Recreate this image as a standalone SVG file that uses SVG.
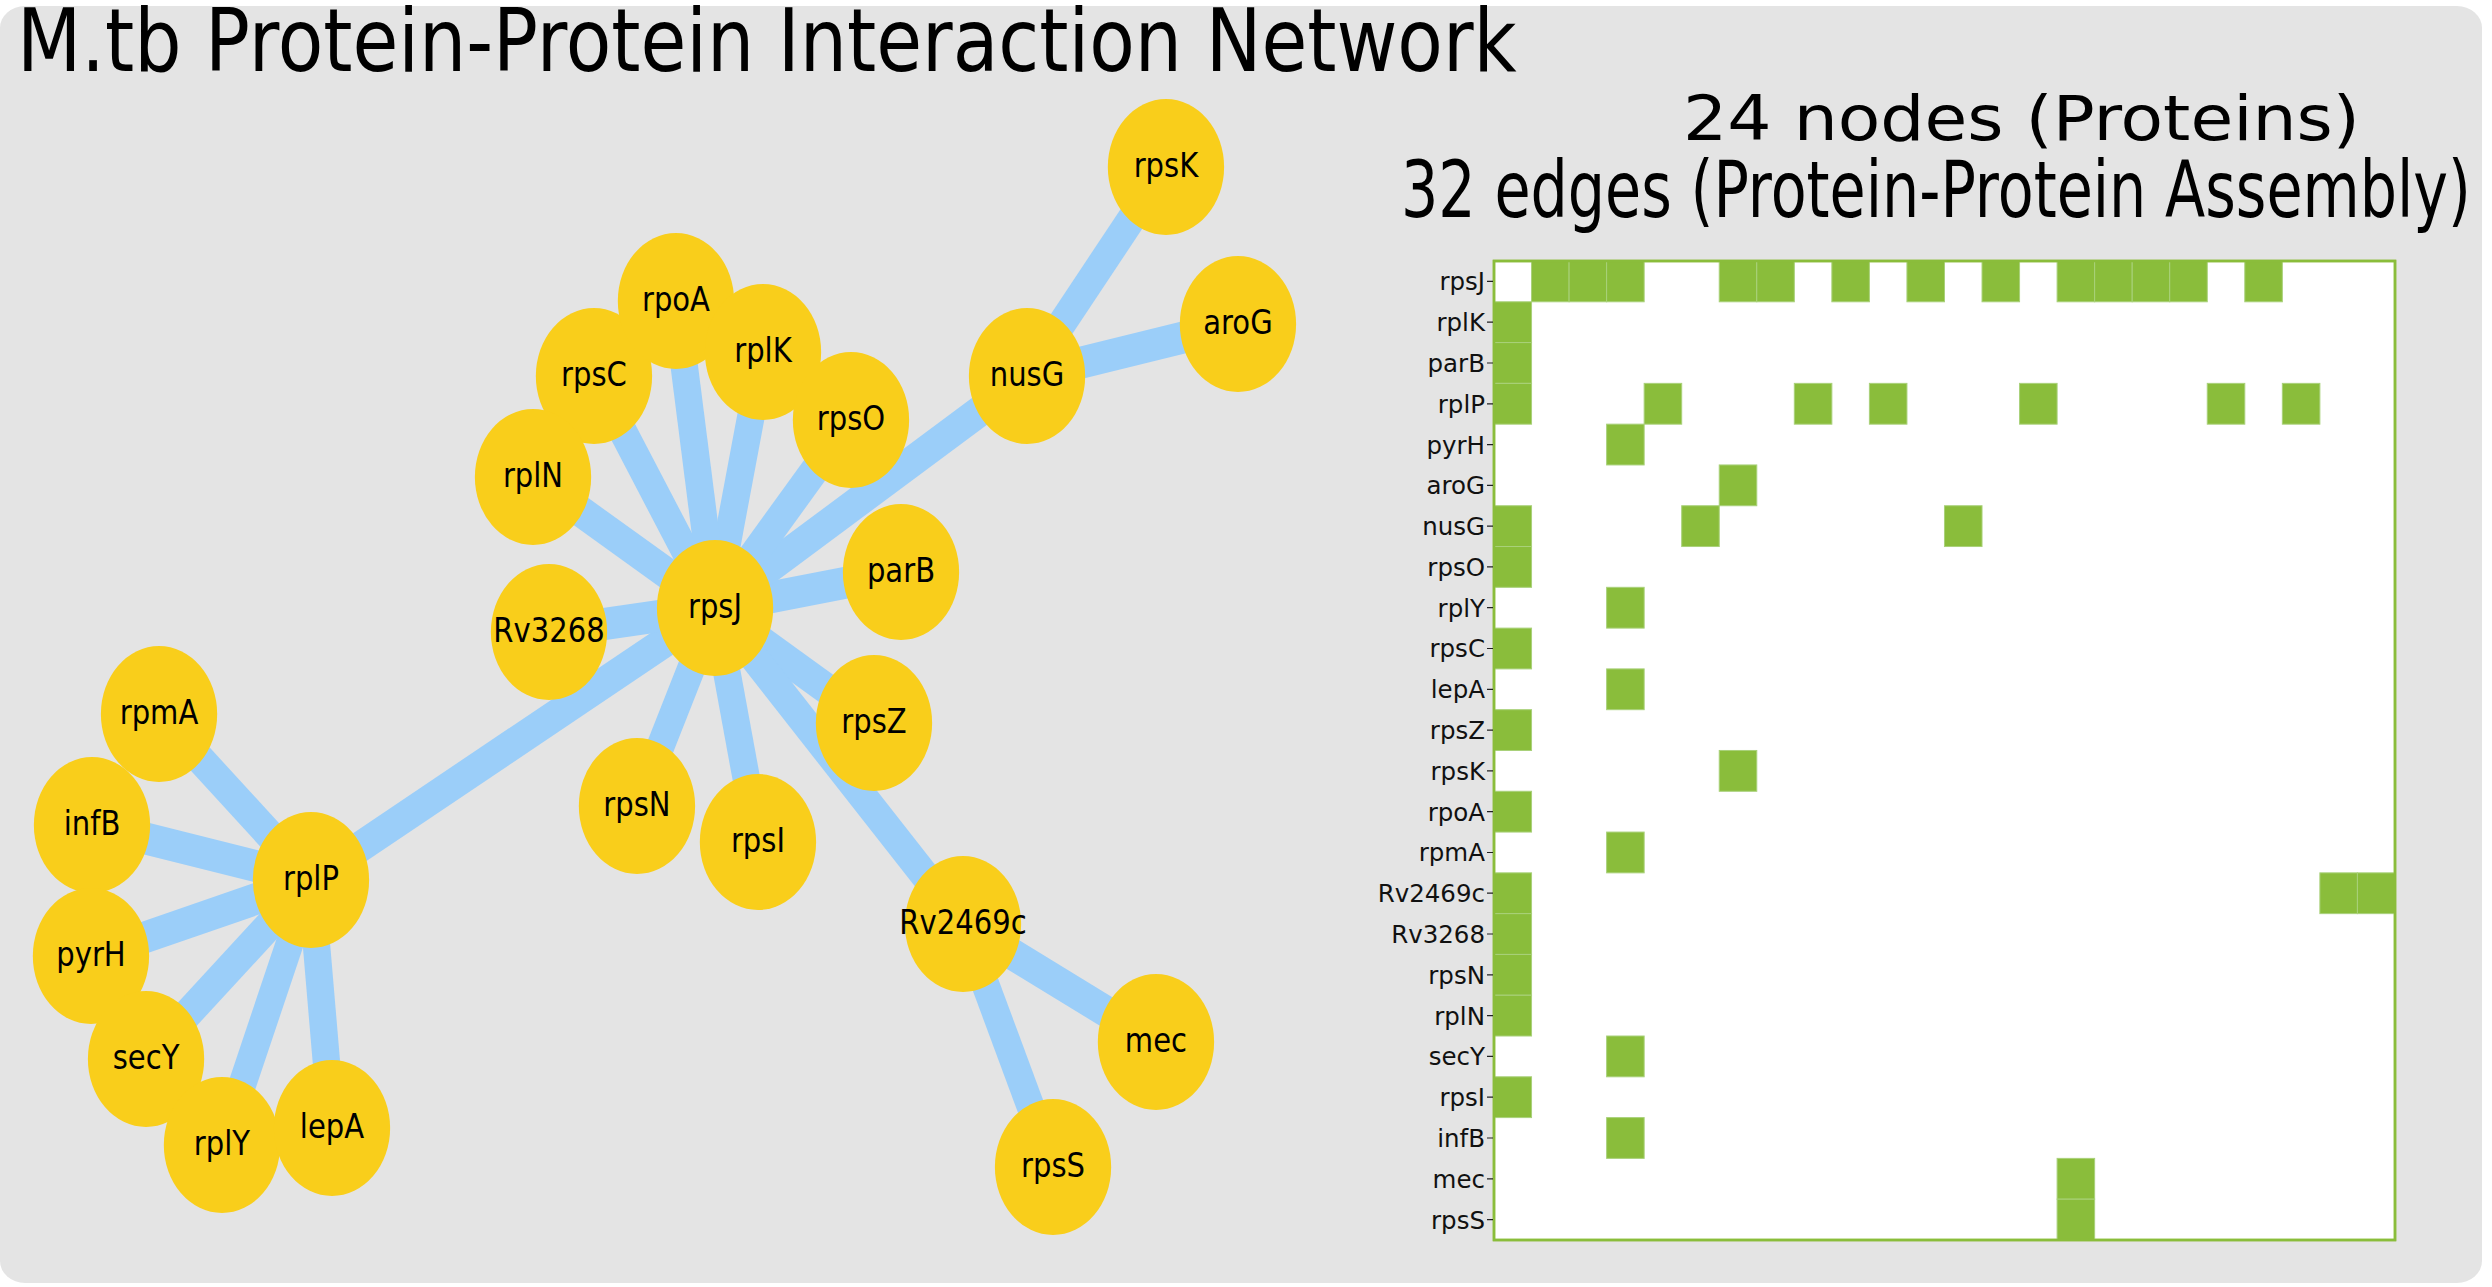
<svg xmlns="http://www.w3.org/2000/svg" width="2492" height="1287" viewBox="0 0 2492 1287">
<style>
.bg{fill:#E4E4E4}
.edge{stroke:#9BCEF9;stroke-width:32;stroke-linecap:butt;fill:none}
.node circle{fill:#F9CE1B}
.node text{font-family:"DejaVu Sans",sans-serif;font-size:34px;fill:#000;text-anchor:middle}
.title{font-family:"DejaVu Sans",sans-serif;font-size:87px;fill:#000}
.hdr{font-family:"DejaVu Sans",sans-serif;fill:#000}
.c{fill:#8ABD3B;stroke:#A9D17A;stroke-width:1}
.frame{fill:#fff;stroke:#8ABD3B;stroke-width:2.5}
.lbl{font-family:"DejaVu Sans",sans-serif;font-size:24.5px;fill:#111;text-anchor:end}
.tick{stroke:#222;stroke-width:1.2;fill:none}
</style>
<rect class="bg" x="0" y="6" width="2482" height="1277" rx="25" ry="22"/>
<g transform="scale(0.855,1)">
<text class="title" x="19.9" y="70.7" textLength="1754" lengthAdjust="spacingAndGlyphs">M.tb Protein-Protein Interaction Network</text>
<g id="connectors">
<line class="edge" x1="836.3" y1="608" x2="892.4" y2="352"/>
<line class="edge" x1="836.3" y1="608" x2="1053.8" y2="572"/>
<line class="edge" x1="836.3" y1="608" x2="363.7" y2="880"/>
<line class="edge" x1="836.3" y1="608" x2="1201.2" y2="376"/>
<line class="edge" x1="836.3" y1="608" x2="995.3" y2="420"/>
<line class="edge" x1="836.3" y1="608" x2="694.7" y2="376"/>
<line class="edge" x1="836.3" y1="608" x2="1022.2" y2="723"/>
<line class="edge" x1="836.3" y1="608" x2="790.6" y2="301"/>
<line class="edge" x1="836.3" y1="608" x2="1126.3" y2="924"/>
<line class="edge" x1="836.3" y1="608" x2="642.1" y2="632"/>
<line class="edge" x1="836.3" y1="608" x2="745.0" y2="806"/>
<line class="edge" x1="836.3" y1="608" x2="623.4" y2="477"/>
<line class="edge" x1="836.3" y1="608" x2="886.5" y2="842"/>
<line class="edge" x1="363.7" y1="880" x2="106.4" y2="956"/>
<line class="edge" x1="363.7" y1="880" x2="259.6" y2="1145"/>
<line class="edge" x1="363.7" y1="880" x2="388.3" y2="1128"/>
<line class="edge" x1="363.7" y1="880" x2="186.0" y2="714"/>
<line class="edge" x1="363.7" y1="880" x2="170.8" y2="1059"/>
<line class="edge" x1="363.7" y1="880" x2="107.6" y2="825"/>
<line class="edge" x1="1201.2" y1="376" x2="1447.9" y2="324"/>
<line class="edge" x1="1201.2" y1="376" x2="1363.7" y2="167"/>
<line class="edge" x1="1126.3" y1="924" x2="1352.0" y2="1042"/>
<line class="edge" x1="1126.3" y1="924" x2="1231.6" y2="1167"/>
</g>
<g id="node-rpsK" class="node"><circle cx="1363.7" cy="167" r="68"/><text x="1363.7" y="177">rpsK</text></g>
<g id="node-aroG" class="node"><circle cx="1447.9" cy="324" r="68"/><text x="1447.9" y="334">aroG</text></g>
<g id="node-nusG" class="node"><circle cx="1201.2" cy="376" r="68"/><text x="1201.2" y="386">nusG</text></g>
<g id="node-mec" class="node"><circle cx="1352.0" cy="1042" r="68"/><text x="1352.0" y="1052">mec</text></g>
<g id="node-rpsS" class="node"><circle cx="1231.6" cy="1167" r="68"/><text x="1231.6" y="1177">rpsS</text></g>
<g id="node-Rv2469c" class="node"><circle cx="1126.3" cy="924" r="68"/><text x="1126.3" y="934">Rv2469c</text></g>
<g id="node-rpsC" class="node"><circle cx="694.7" cy="376" r="68"/><text x="694.7" y="386">rpsC</text></g>
<g id="node-rpoA" class="node"><circle cx="790.6" cy="301" r="68"/><text x="790.6" y="311">rpoA</text></g>
<g id="node-rplK" class="node"><circle cx="892.4" cy="352" r="68"/><text x="892.4" y="362">rplK</text></g>
<g id="node-rpsO" class="node"><circle cx="995.3" cy="420" r="68"/><text x="995.3" y="430">rpsO</text></g>
<g id="node-rplN" class="node"><circle cx="623.4" cy="477" r="68"/><text x="623.4" y="487">rplN</text></g>
<g id="node-parB" class="node"><circle cx="1053.8" cy="572" r="68"/><text x="1053.8" y="582">parB</text></g>
<g id="node-Rv3268" class="node"><circle cx="642.1" cy="632" r="68"/><text x="642.1" y="642">Rv3268</text></g>
<g id="node-rpsZ" class="node"><circle cx="1022.2" cy="723" r="68"/><text x="1022.2" y="733">rpsZ</text></g>
<g id="node-rpsN" class="node"><circle cx="745.0" cy="806" r="68"/><text x="745.0" y="816">rpsN</text></g>
<g id="node-rpsI" class="node"><circle cx="886.5" cy="842" r="68"/><text x="886.5" y="852">rpsI</text></g>
<g id="node-rpsJ" class="node"><circle cx="836.3" cy="608" r="68"/><text x="836.3" y="618">rpsJ</text></g>
<g id="node-rpmA" class="node"><circle cx="186.0" cy="714" r="68"/><text x="186.0" y="724">rpmA</text></g>
<g id="node-infB" class="node"><circle cx="107.6" cy="825" r="68"/><text x="107.6" y="835">infB</text></g>
<g id="node-pyrH" class="node"><circle cx="106.4" cy="956" r="68"/><text x="106.4" y="966">pyrH</text></g>
<g id="node-secY" class="node"><circle cx="170.8" cy="1059" r="68"/><text x="170.8" y="1069">secY</text></g>
<g id="node-rplY" class="node"><circle cx="259.6" cy="1145" r="68"/><text x="259.6" y="1155">rplY</text></g>
<g id="node-lepA" class="node"><circle cx="388.3" cy="1128" r="68"/><text x="388.3" y="1138">lepA</text></g>
<g id="node-rplP" class="node"><circle cx="363.7" cy="880" r="68"/><text x="363.7" y="890">rplP</text></g>
</g>
<text class="hdr" x="1683" y="140" font-size="63" textLength="677" lengthAdjust="spacingAndGlyphs">24 nodes (Proteins)</text>
<text class="hdr" x="1401" y="217" font-size="78.5" textLength="1070" lengthAdjust="spacingAndGlyphs">32 edges (Protein-Protein Assembly)</text>
<g id="matrix">
<rect class="frame" x="1494" y="261" width="901" height="979"/>
<g id="cells">
<rect class="c" x="1531.54" y="261" width="37.54" height="40.79"/>
<rect class="c" x="1569.08" y="261" width="37.54" height="40.79"/>
<rect class="c" x="1606.62" y="261" width="37.54" height="40.79"/>
<rect class="c" x="1719.24" y="261" width="37.54" height="40.79"/>
<rect class="c" x="1756.78" y="261" width="37.54" height="40.79"/>
<rect class="c" x="1831.86" y="261" width="37.54" height="40.79"/>
<rect class="c" x="1906.94" y="261" width="37.54" height="40.79"/>
<rect class="c" x="1982.02" y="261" width="37.54" height="40.79"/>
<rect class="c" x="2057.1" y="261" width="37.54" height="40.79"/>
<rect class="c" x="2094.64" y="261" width="37.54" height="40.79"/>
<rect class="c" x="2132.18" y="261" width="37.54" height="40.79"/>
<rect class="c" x="2169.72" y="261" width="37.54" height="40.79"/>
<rect class="c" x="2244.8" y="261" width="37.54" height="40.79"/>
<rect class="c" x="1494" y="301.79" width="37.54" height="40.79"/>
<rect class="c" x="1494" y="342.58" width="37.54" height="40.79"/>
<rect class="c" x="1494" y="383.37" width="37.54" height="40.79"/>
<rect class="c" x="1644.16" y="383.37" width="37.54" height="40.79"/>
<rect class="c" x="1794.32" y="383.37" width="37.54" height="40.79"/>
<rect class="c" x="1869.4" y="383.37" width="37.54" height="40.79"/>
<rect class="c" x="2019.56" y="383.37" width="37.54" height="40.79"/>
<rect class="c" x="2207.26" y="383.37" width="37.54" height="40.79"/>
<rect class="c" x="2282.34" y="383.37" width="37.54" height="40.79"/>
<rect class="c" x="1606.62" y="424.16" width="37.54" height="40.79"/>
<rect class="c" x="1719.24" y="464.95" width="37.54" height="40.79"/>
<rect class="c" x="1494" y="505.74" width="37.54" height="40.79"/>
<rect class="c" x="1681.7" y="505.74" width="37.54" height="40.79"/>
<rect class="c" x="1944.48" y="505.74" width="37.54" height="40.79"/>
<rect class="c" x="1494" y="546.53" width="37.54" height="40.79"/>
<rect class="c" x="1606.62" y="587.32" width="37.54" height="40.79"/>
<rect class="c" x="1494" y="628.11" width="37.54" height="40.79"/>
<rect class="c" x="1606.62" y="668.9" width="37.54" height="40.79"/>
<rect class="c" x="1494" y="709.69" width="37.54" height="40.79"/>
<rect class="c" x="1719.24" y="750.48" width="37.54" height="40.79"/>
<rect class="c" x="1494" y="791.27" width="37.54" height="40.79"/>
<rect class="c" x="1606.62" y="832.06" width="37.54" height="40.79"/>
<rect class="c" x="1494" y="872.85" width="37.54" height="40.79"/>
<rect class="c" x="2319.88" y="872.85" width="37.54" height="40.79"/>
<rect class="c" x="2357.42" y="872.85" width="37.54" height="40.79"/>
<rect class="c" x="1494" y="913.64" width="37.54" height="40.79"/>
<rect class="c" x="1494" y="954.43" width="37.54" height="40.79"/>
<rect class="c" x="1494" y="995.22" width="37.54" height="40.79"/>
<rect class="c" x="1606.62" y="1036.01" width="37.54" height="40.79"/>
<rect class="c" x="1494" y="1076.8" width="37.54" height="40.79"/>
<rect class="c" x="1606.62" y="1117.59" width="37.54" height="40.79"/>
<rect class="c" x="2057.1" y="1158.38" width="37.54" height="40.79"/>
<rect class="c" x="2057.1" y="1199.17" width="37.54" height="40.79"/>
</g>
<rect x="1494" y="261" width="901" height="979" fill="none" stroke="#8ABD3B" stroke-width="2.5"/>
<path class="tick" d="M1487,281.4h6M1487,322.2h6M1487,363h6M1487,403.8h6M1487,444.6h6M1487,485.3h6M1487,526.1h6M1487,566.9h6M1487,607.7h6M1487,648.5h6M1487,689.3h6M1487,730.1h6M1487,770.9h6M1487,811.7h6M1487,852.5h6M1487,893.2h6M1487,934h6M1487,974.8h6M1487,1015.6h6M1487,1056.4h6M1487,1097.2h6M1487,1138h6M1487,1178.8h6M1487,1219.6h6"/>
<text class="lbl" x="1485" y="290.3">rpsJ</text>
<text class="lbl" x="1485" y="331.1">rplK</text>
<text class="lbl" x="1485" y="371.9">parB</text>
<text class="lbl" x="1485" y="412.7">rplP</text>
<text class="lbl" x="1485" y="453.5">pyrH</text>
<text class="lbl" x="1485" y="494.2">aroG</text>
<text class="lbl" x="1485" y="535">nusG</text>
<text class="lbl" x="1485" y="575.8">rpsO</text>
<text class="lbl" x="1485" y="616.6">rplY</text>
<text class="lbl" x="1485" y="657.4">rpsC</text>
<text class="lbl" x="1485" y="698.2">lepA</text>
<text class="lbl" x="1485" y="739">rpsZ</text>
<text class="lbl" x="1485" y="779.8">rpsK</text>
<text class="lbl" x="1485" y="820.6">rpoA</text>
<text class="lbl" x="1485" y="861.4">rpmA</text>
<text class="lbl" x="1485" y="902.1">Rv2469c</text>
<text class="lbl" x="1485" y="942.9">Rv3268</text>
<text class="lbl" x="1485" y="983.7">rpsN</text>
<text class="lbl" x="1485" y="1024.5">rplN</text>
<text class="lbl" x="1485" y="1065.3">secY</text>
<text class="lbl" x="1485" y="1106.1">rpsI</text>
<text class="lbl" x="1485" y="1146.9">infB</text>
<text class="lbl" x="1485" y="1187.7">mec</text>
<text class="lbl" x="1485" y="1228.5">rpsS</text>
</g>
</svg>
